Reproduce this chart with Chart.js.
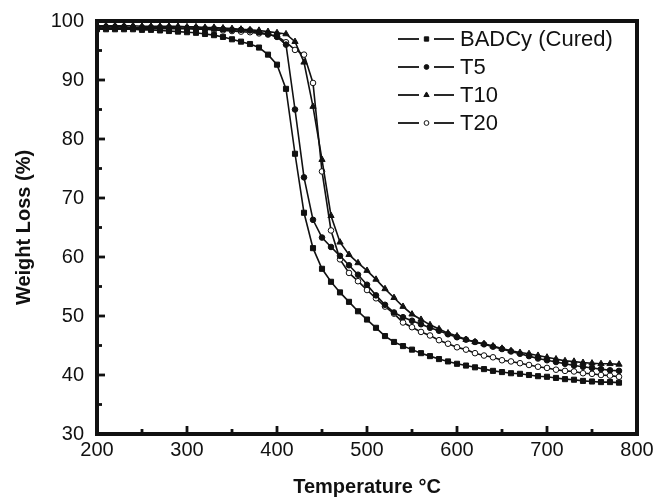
<!DOCTYPE html>
<html><head><meta charset="utf-8">
<script src="https://cdn.jsdelivr.net/npm/chart.js@4"></script>
<style>html,body{margin:0;padding:0;background:#fff}#wrap{width:653px;height:498px;position:relative}</style>
</head><body><div id="wrap"><canvas id="c" width="653" height="498"></canvas></div>
<script>
const temperatures = [200,210,220,230,240,250,260,270,280,290,300,310,320,330,340,350,360,370,380,390,400,410,420,430,440,450,460,470,480,490,500,510,520,530,540,550,560,570,580,590,600,610,620,630,640,650,660,670,680,690,700,710,720,730,740,750,760,770,780];
const badcy = [98.6,98.6,98.6,98.6,98.6,98.5,98.5,98.4,98.3,98.2,98.1,98.0,97.8,97.6,97.3,96.9,96.5,96.1,95.5,94.3,92.6,88.5,77.5,67.5,61.5,58.0,55.8,54.0,52.4,50.8,49.4,48.0,46.6,45.6,44.9,44.3,43.7,43.2,42.7,42.3,41.9,41.6,41.3,41.0,40.7,40.5,40.3,40.2,40.0,39.8,39.7,39.5,39.3,39.2,39.0,38.9,38.8,38.8,38.7];
const t5 = [99.0,99.0,99.0,99.0,98.9,98.9,98.9,98.9,98.9,98.8,98.8,98.8,98.7,98.7,98.6,98.5,98.5,98.4,98.1,97.8,97.3,96.0,85.0,73.5,66.3,63.3,61.7,60.2,58.6,57.0,55.3,53.5,51.9,50.6,49.8,49.2,48.6,48.0,47.5,46.9,46.4,46.0,45.6,45.2,44.8,44.4,44.0,43.6,43.2,42.8,42.5,42.2,41.9,41.6,41.4,41.2,41.0,40.8,40.7];
const t10 = [99.2,99.2,99.2,99.2,99.2,99.1,99.1,99.1,99.1,99.1,99.0,99.0,98.9,98.9,98.8,98.7,98.6,98.5,98.4,98.2,98.0,97.8,96.5,93.0,85.5,76.5,67.0,62.5,60.4,59.0,57.7,56.2,54.6,53.1,51.6,50.3,49.4,48.5,47.8,47.1,46.6,46.0,45.6,45.3,44.9,44.5,44.1,43.8,43.6,43.3,43.0,42.7,42.4,42.3,42.1,42.0,41.9,41.9,41.8];
const t20 = [98.8,98.8,98.8,98.8,98.8,98.8,98.7,98.7,98.7,98.7,98.7,98.6,98.6,98.5,98.4,98.3,98.2,98.1,97.9,97.7,97.4,96.4,95.1,94.3,89.5,74.5,64.5,59.6,57.3,55.9,54.4,53.0,51.6,50.4,48.9,48.1,47.3,46.7,45.9,45.3,44.7,44.3,43.7,43.3,43.0,42.5,42.3,42.0,41.7,41.4,41.2,40.9,40.7,40.6,40.3,40.2,40.0,39.9,39.7];
const seriesLabels = ['BADCy (Cured)','T5','T10','T20'];
const xTickValues = [200,300,400,500,600,700,800];
const yTickValues = [30,40,50,60,70,80,90,100];

const FONT = 'Liberation Sans, Arial, Helvetica, sans-serif';
const pts = arr => temperatures.map((t,i)=>({x:t,y:arr[i]}));
const styles = [
  {pointStyle:'rect', pointRadius:3.6, bg:'#111'},
  {pointStyle:'circle', pointRadius:2.8, bg:'#111'},
  {pointStyle:'triangle', pointRadius:3.6, bg:'#111'},
  {pointStyle:'circle', pointRadius:2.8, bg:'#fff'}
];
const seriesData = [badcy,t5,t10,t20];
const datasets = seriesData.map((d,i)=>({
  label: seriesLabels[i], data: pts(d), showLine:true, tension:0,
  borderColor:'#111', borderWidth:1.6, pointStyle:styles[i].pointStyle,
  pointRadius:styles[i].pointRadius, pointBackgroundColor:styles[i].bg,
  pointBorderColor:'#111', pointBorderWidth:1
}));

const framePlugin = {
  id:'frame',
  afterDraw(chart){
    const ctx = chart.ctx, a = chart.chartArea;
    const xs = chart.scales.x, ys = chart.scales.y;
    ctx.save();
    ctx.strokeStyle = '#111';
    ctx.lineCap = 'butt';
    ctx.lineWidth = 2.8;
    for (let v = 250; v < 800; v += 50) {
      const px = xs.getPixelForValue(v);
      const len = (v % 100 === 0) ? 8 : 5;
      ctx.beginPath(); ctx.moveTo(px, a.bottom); ctx.lineTo(px, a.bottom - len); ctx.stroke();
    }
    for (let v = 35; v < 100; v += 5) {
      const py = ys.getPixelForValue(v);
      const len = (v % 10 === 0) ? 8 : 5;
      ctx.beginPath(); ctx.moveTo(a.left, py); ctx.lineTo(a.left + len, py); ctx.stroke();
    }
    ctx.lineWidth = 4;
    ctx.strokeRect(a.left, a.top, a.right - a.left, a.bottom - a.top);
    // legend
    const rows = [39, 67, 95, 123];
    ctx.font = '22px ' + FONT;
    ctx.textBaseline = 'middle';
    ctx.textAlign = 'left';
    chart.data.datasets.forEach((ds, i) => {
      const y = rows[i];
      ctx.strokeStyle = '#111';
      ctx.lineWidth = 1.8;
      ctx.beginPath(); ctx.moveTo(398, y); ctx.lineTo(419, y); ctx.stroke();
      ctx.beginPath(); ctx.moveTo(434, y); ctx.lineTo(454, y); ctx.stroke();
      ctx.fillStyle = ds.pointBackgroundColor;
      ctx.lineWidth = 1;
      Chart.helpers.drawPoint(ctx, {pointStyle: ds.pointStyle, radius: ds.pointRadius*0.85, borderWidth:1}, 426.5, y);
      ctx.fillStyle = '#111';
      ctx.fillText(ds.label, 460, y + 1);
    });
    ctx.restore();
  }
};

new Chart(document.getElementById('c'), {
  type:'scatter',
  data:{datasets},
  options:{
    responsive:false, animation:false, devicePixelRatio:1,
    layout:{padding:{top:21,right:16,left:0,bottom:0}},
    plugins:{legend:{display:false}, tooltip:{enabled:false}},
    scales:{
      x:{type:'linear', min:200, max:800,
        afterBuildTicks: s => { s.ticks = xTickValues.map(v=>({value:v})); },
        afterFit: s => { s.height = 64; },
        grid:{display:false}, border:{display:false},
        ticks:{color:'#111', font:{family:FONT, size:20}, padding:-4, maxRotation:0},
        title:{display:true, text:'Temperature °C', color:'#111', font:{family:FONT, size:20, weight:'bold', lineHeight:1.1}, padding:{top:0,bottom:0}}
      },
      y:{type:'linear', min:30, max:100,
        afterBuildTicks: s => { s.ticks = yTickValues.map(v=>({value:v})); },
        afterFit: s => { s.width = 97; },
        grid:{display:false}, border:{display:false},
        ticks:{color:'#111', font:{family:FONT, size:20}, padding:5},
        title:{display:true, text:'Weight Loss (%)', color:'#111', font:{family:FONT, size:20, weight:'bold', lineHeight:1.1}, padding:{top:13,bottom:0}}
      }
    }
  },
  plugins:[framePlugin]
});
</script></body></html>
